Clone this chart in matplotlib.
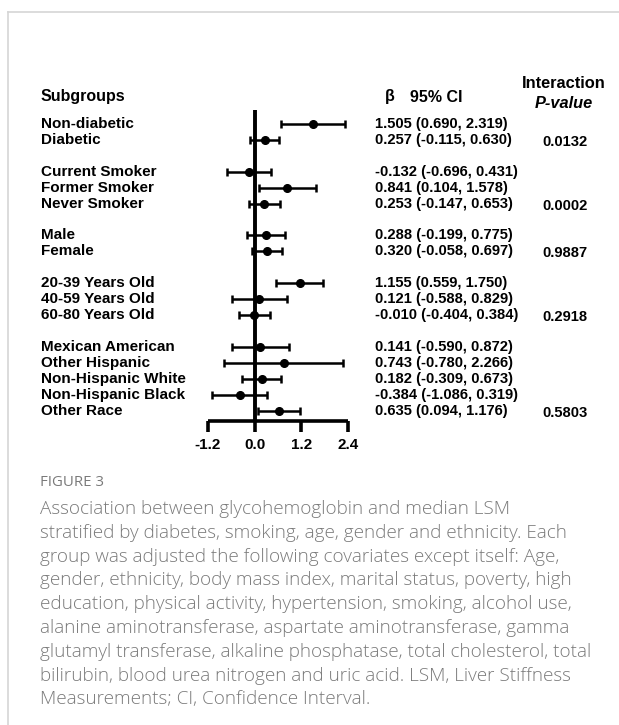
import matplotlib
matplotlib.use("Agg")
import matplotlib.pyplot as plt
import matplotlib.transforms as mtransforms
from matplotlib.lines import Line2D

# ---------------- data ----------------
subgroups = ["Non-diabetic", "Diabetic",
             "Current Smoker", "Former Smoker", "Never Smoker",
             "Male", "Female",
             "20-39 Years Old", "40-59 Years Old", "60-80 Years Old",
             "Mexican American", "Other Hispanic", "Non-Hispanic White",
             "Non-Hispanic Black", "Other Race"]
rows = [0, 1, 3, 4, 5, 7, 8, 10, 11, 12, 14, 15, 16, 17, 18]
beta = [1.505, 0.257, -0.132, 0.841, 0.253, 0.288, 0.320,
        1.155, 0.121, -0.010, 0.141, 0.743, 0.182, -0.384, 0.635]
ci_low = [0.690, -0.115, -0.696, 0.104, -0.147, -0.199, -0.058,
          0.559, -0.588, -0.404, -0.590, -0.780, -0.309, -1.086, 0.094]
ci_high = [2.319, 0.630, 0.431, 1.578, 0.653, 0.775, 0.697,
           1.750, 0.829, 0.384, 0.872, 2.266, 0.673, 0.319, 1.176]
p_rows = [1, 5, 8, 12, 18]
p_values = ["0.0132", "0.0002", "0.9887", "0.2918", "0.5803"]
xticks = [-1.2, 0.0, 1.2, 2.4]
xtick_labels = ["-1.2", "0.0", "1.2", "2.4"]

caption_title = "FIGURE 3"
caption_lines = [
    "Association between glycohemoglobin and median LSM",
    "stratified by diabetes, smoking, age, gender and ethnicity. Each",
    "group was adjusted the following covariates except itself: Age,",
    "gender, ethnicity, body mass index, marital status, poverty, high",
    "education, physical activity, hypertension, smoking, alcohol use,",
    "alanine aminotransferase, aspartate aminotransferase, gamma",
    "glutamyl transferase, alkaline phosphatase, total cholesterol, total",
    "bilirubin, blood urea nitrogen and uric acid. LSM, Liver Stiffness",
    "Measurements; CI, Confidence Interval.",
]

# ---------------- figure ----------------
W, H = 619, 725
fig = plt.figure(figsize=(W / 100, H / 100), dpi=100)
fig.patch.set_facecolor("white")

def fx(px):
    return px / W

def fy(py):
    return 1 - py / H

# forest axes
left_px, right_px = 207.7, 348.2
top_px, bot_px = 110, 421
ax = fig.add_axes([fx(left_px), fy(bot_px), fx(right_px - left_px), (bot_px - top_px) / H])
ax.set_xlim(xticks[0], xticks[-1])
ax.set_ylim(18.65, -0.88)
ax.patch.set_alpha(0)
for s in ["top", "right", "left"]:
    ax.spines[s].set_visible(False)
ax.spines["bottom"].set_linewidth(2.6)
ax.spines["bottom"].set_capstyle("butt")
ax.set_yticks([])
ax.set_xticks(xticks)
ax.set_xticklabels(xtick_labels, fontsize=11, fontweight="bold", family="Liberation Sans")
ax.tick_params(axis="x", length=8, width=2.6, pad=4, direction="out")
ax.axvline(0, color="black", lw=2.8, zorder=1)

for r, b, lo, hi in zip(rows, beta, ci_low, ci_high):
    ax.errorbar(b, r, xerr=[[b - lo], [hi - b]], fmt="o", color="black",
                ms=5.5, elinewidth=1.8, capsize=3.2, capthick=1.8,
                clip_on=False, zorder=3)

# text columns (x in figure px, y in row units)
trans = mtransforms.blended_transform_factory(fig.transFigure, ax.transData)
bold = dict(family="Liberation Sans", fontweight="bold", color="black")

for r, name in zip(rows, subgroups):
    fig.text(fx(41), r, name, transform=trans, fontsize=11, va="center", ha="left", **bold)
for r, b, lo, hi in zip(rows, beta, ci_low, ci_high):
    fig.text(fx(375), r, f"{b:.3f} ({lo:.3f}, {hi:.3f})", transform=trans,
             fontsize=10.6, va="center", ha="left", **bold)
for r, p in zip(p_rows, p_values):
    fig.text(fx(565), r + 0.12, p, transform=trans, fontsize=10.6, va="center", ha="center", **bold)

# headers
fig.text(fx(41), fy(97), "Subgroups", fontsize=11.5, va="center", ha="left", **bold)
fig.text(fx(385), fy(97), "β", fontsize=11.5, va="center", ha="left", **bold)
fig.text(fx(410), fy(97), "95% CI", fontsize=11.5, va="center", ha="left", **bold)
fig.text(fx(564), fy(83), "Interaction", fontsize=11.8, va="center", ha="center", **bold)
fig.text(fx(564), fy(104), "P-value", fontsize=11.8, va="center", ha="center",
         style="italic", **bold)

# caption
cap_color = "#7a7a7a"
fig.text(fx(40), fy(483), caption_title, fontsize=10.8, va="center", ha="left",
         color=cap_color, family="Open Sans")
for i, line in enumerate(caption_lines):
    fig.text(fx(40), fy(509 + 23.8 * i), line, fontsize=13.6, va="center", ha="left",
             color=cap_color, family="Open Sans", fontweight="light")

# frame lines
fig.add_artist(Line2D([fx(8), 1], [fy(12), fy(12)], transform=fig.transFigure,
                      color="#d5d5d5", lw=1.2))
fig.add_artist(Line2D([fx(8), fx(8)], [fy(12), 0], transform=fig.transFigure,
                      color="#d5d5d5", lw=1.2))

fig.savefig("out.png", dpi=100)
